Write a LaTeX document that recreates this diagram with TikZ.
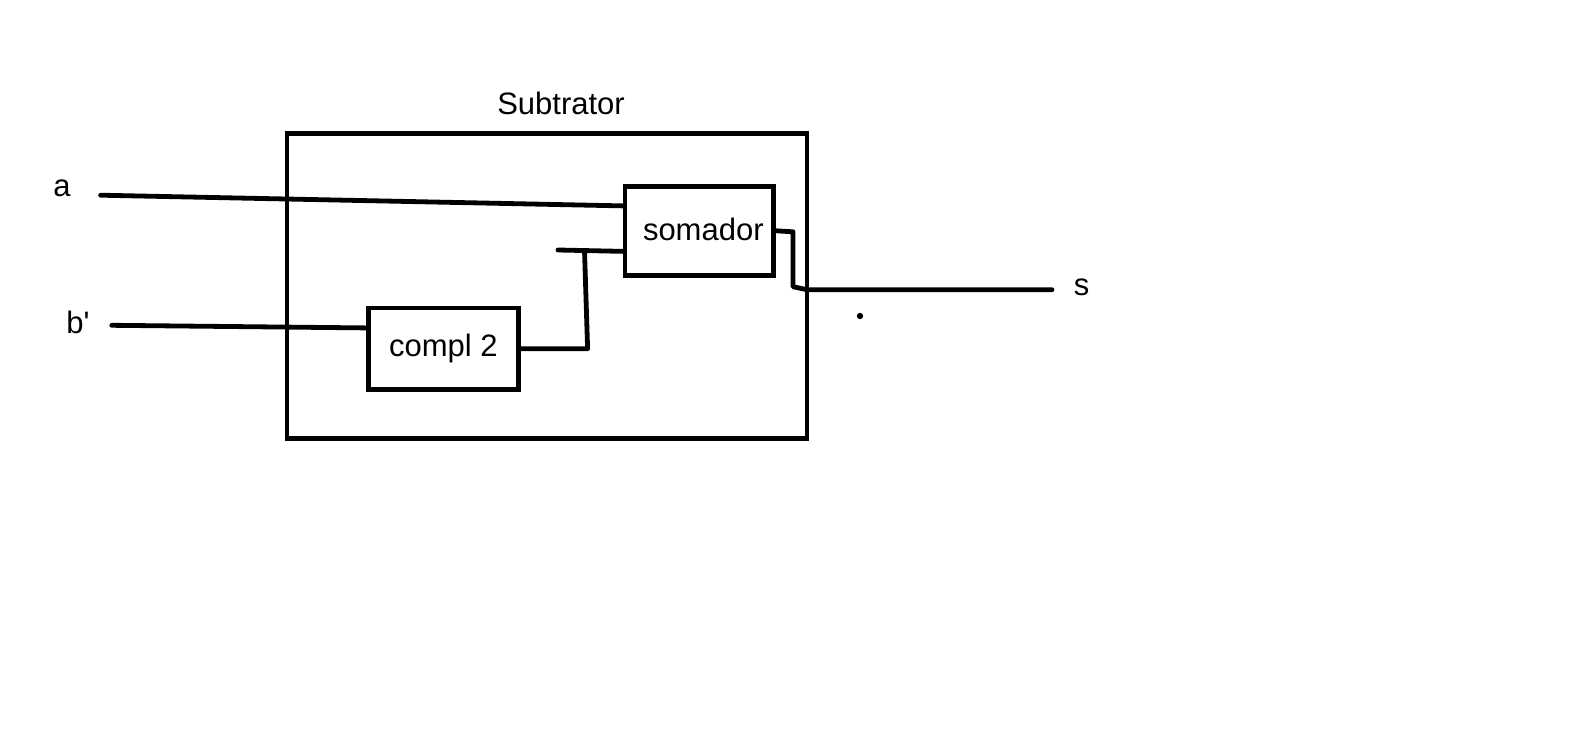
\documentclass[tikz,border=0pt]{standalone}
\usepackage{fontspec}
\setmainfont{Liberation Sans}
\usepackage{tikz}
\usetikzlibrary{arrows.meta, positioning}

\begin{document}
\begin{tikzpicture}[
  x=0.5pt, y=-0.5pt,
  blockbox/.style={rectangle, draw=black, line width=2.4pt, inner sep=0pt, font=\fontsize{15.5}{18}\selectfont},
  outerbox/.style={rectangle, draw=black, line width=2.4pt, inner sep=0pt, minimum width=260pt, minimum height=152.5pt},
  pinlbl/.style={font=\fontsize{15.5}{18}\selectfont},
  wire/.style={line width=2.4pt, line cap=round, line join=round}
]
\useasboundingbox (0,0) rectangle (1594,755);

%  : -- Subtrator (outer block)  : --
\node[outerbox] (sub) at (547,285.7) {};
\node[pinlbl] (sublbl) at (561,103) {Subtrator};

%  : -- inner blocks  : --
\node[blockbox, minimum width=74.3pt, minimum height=44.7pt] (som) at (699.3,230.8) {\raisebox{2pt}{\hspace{4pt}somador}};
\node[blockbox, minimum width=75.2pt, minimum height=40.7pt] (c2) at (443.3,348.7) {\raisebox{3pt}{compl 2}};

%  : -- pins  : --
\node[pinlbl] (a) at (62,188) {a};
\node[pinlbl] (b) at (78,322) {b\textquotesingle};
\node[pinlbl] (s) at (1081.6,287.7) {s};
\coordinate (ain) at (100.6,195.2);
\coordinate (bin) at (111.8,325.3);
\coordinate (sout) at (1052,289.7);

%  : -- a -> somador  : --
\draw[wire] (ain) -- (som.162);

%  : -- b' -> compl 2 -> somador  : --
\draw[wire] (bin) -- (c2.165);
\coordinate (tbot) at (587.6,348.7);
\coordinate (ttop) at (584.5,250.5);
\coordinate (tstub) at (558,250);
\draw[wire] (c2.east) -- (tbot) -- (ttop);
\draw[wire] (tstub) -- (som.195);

%  : -- somador -> s  : --
\coordinate (k1) at (793,231.8);
\coordinate (k2) at (793,286.7);
\coordinate (k3) at (807,289.7);
\draw[wire] (som.east) -- (k1) -- (k2) -- (k3) -- (sout);

% stray dot
\fill (860,316) circle (1.6pt);

\end{tikzpicture}
\end{document}
